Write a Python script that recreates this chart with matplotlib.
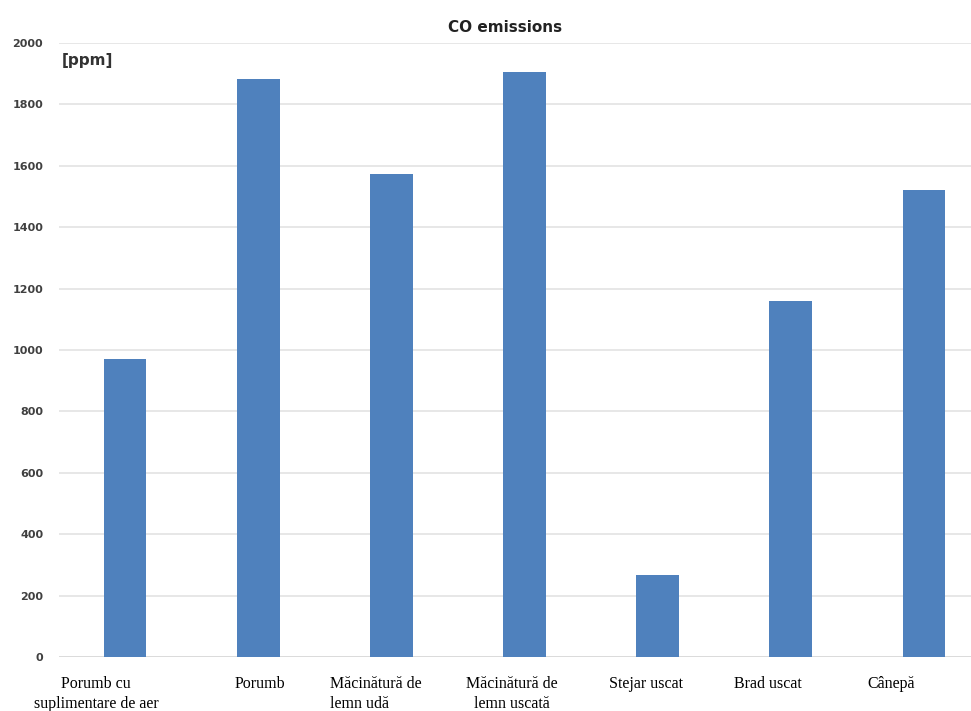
import matplotlib
matplotlib.use("Agg")
import matplotlib.pyplot as plt
from matplotlib.transforms import ScaledTranslation, blended_transform_factory

categories = ["Porumb cu\nsuplimentare de aer", "Porumb", "Măcinătură de\nlemn udă",
              "Măcinătură de\nlemn uscată", "Stejar uscat", "Brad uscat", "Cânepă"]
values = [970, 1882, 1572, 1905, 267, 1160, 1520]
yticks = [0, 200, 400, 600, 800, 1000, 1200, 1400, 1600, 1800, 2000]

# layout-only: horizontal pixel shift of each category label, and its line alignment
label_shift_px = [-29, 2, -16, -13, -12, -23, -33]
label_align = ["center", "center", "left", "center", "center", "center", "center"]

DPI = 100
fig = plt.figure(figsize=(9.71, 7.11), dpi=DPI)
ax = fig.add_axes([58.5/971, 54/711, 932/971, 614/711])

x = list(range(len(categories)))
ax.bar(x, values, width=0.32, color="#4f81bd", zorder=3)
ax.set_xlim(-0.5, len(categories) - 0.5)
ax.set_ylim(0, 2000)
ax.set_yticks(yticks)
ax.set_yticklabels([str(t) for t in yticks], fontsize=8, fontweight="bold",
                   color="#404040", family="DejaVu Sans")
ax.set_xticks(x)
ax.set_xticklabels([])
ax.tick_params(axis="y", length=0, pad=11)
ax.tick_params(axis="x", length=0)
ax.grid(axis="y", color="#e3e3e3", linewidth=1.2, zorder=0)
for s in ax.spines.values():
    s.set_visible(False)
ax.axhline(0, color="#d9d9d9", linewidth=1.2, zorder=2)

blend = blended_transform_factory(ax.transData, ax.transAxes)
for xi, lab, sh, al in zip(x, categories, label_shift_px, label_align):
    tr = blend + ScaledTranslation(sh / DPI, -19 / DPI, fig.dpi_scale_trans)
    ax.text(xi, 0, lab, transform=tr, ha="center", va="top", multialignment=al,
            fontsize=11.5, family="Liberation Serif", color="black", linespacing=1.3)

fig.text(505/971, 1 - 28/711, "CO emissions", ha="center", va="center",
         fontsize=11, fontweight="bold", color="#222222", family="DejaVu Sans")
fig.text(62/971, 1 - 60/711, "[ppm]", ha="left", va="center",
         fontsize=11, fontweight="bold", color="#333333", family="DejaVu Sans")

fig.savefig("out.png", dpi=DPI)
